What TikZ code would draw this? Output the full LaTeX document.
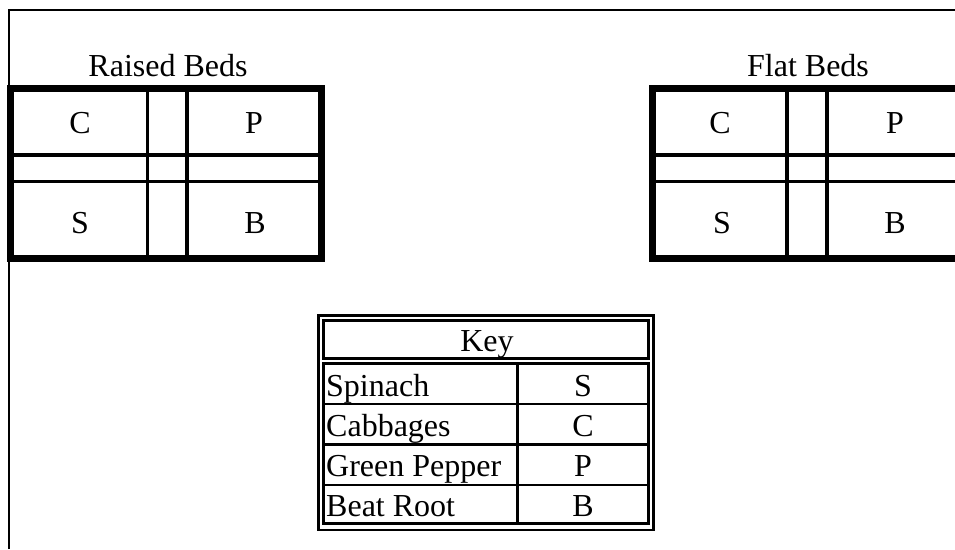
\documentclass[tikz,border=0pt]{standalone}
\usepackage{fontspec}
\setmainfont{Liberation Serif}
\begin{document}
\begin{tikzpicture}[x=1pt, y=-1pt,
  frame/.style={line width=2pt},
  bedouter/.style={line width=7pt},
  bedline/.style={line width=3.5pt},
  keyline/.style={line width=2.6pt},
  title/.style={font=\fontsize{32}{38}\selectfont, anchor=base, inner sep=0pt},
  crop/.style={font=\fontsize{32}{38}\selectfont, anchor=base, inner sep=0pt},
  keytext/.style={font=\fontsize{32}{38}\selectfont, anchor=base, inner sep=0pt}]
\useasboundingbox (0,0) rectangle (955,549);
\begin{scope}
\clip (0,0) rectangle (955,549);
% page frame
\draw[frame] (9,549) -- (9,10) -- (955,10);

% raised beds grid
\draw[bedouter] (10,88.5) rectangle (321.5,258.5);
\draw[bedline] (147.5,88.5) -- (147.5,258.5);
\draw[bedline] (187,88.5) -- (187,258.5);
\draw[bedline] (10,155) -- (321.5,155);
\draw[bedline] (10,181.5) -- (321.5,181.5);

% flat beds grid
\draw[bedouter] (652.5,88.5) rectangle (963,258.5);
\draw[bedline] (787,88.5) -- (787,258.5);
\draw[bedline] (827,88.5) -- (827,258.5);
\draw[bedline] (652.5,155) -- (963,155);
\draw[bedline] (652.5,181.5) -- (963,181.5);
\end{scope}

\node[title] (raised) at (168,76.5) {Raised Beds};
\node[crop] (rc) at (80,133) {C};
\node[crop] (rp) at (254,133) {P};
\node[crop] (rs) at (80,233) {S};
\node[crop] (rb) at (255,233) {B};

\node[title] (flat) at (808,76.5) {Flat Beds};
\node[crop] (fc) at (720,133) {C};
\node[crop] (fp) at (895,133) {P};
\node[crop] (fs) at (722,233) {S};
\node[crop] (fb) at (895,233) {B};

% key table
\draw[keyline] (318.5,315.5) rectangle (653.5,530);
\draw[keyline] (323.5,320.3) rectangle (648.5,358.3);
\draw[keyline] (323.5,363.5) rectangle (648.5,523.3);
\draw[keyline] (323.5,404) -- (648.5,404);
\draw[keyline] (323.5,444.5) -- (648.5,444.5);
\draw[keyline] (323.5,485) -- (648.5,485);
\draw[keyline] (517.3,363.5) -- (517.3,523.3);

\node[keytext] (key) at (487,351.5) {Key};
\node[keytext, anchor=base west] (spinach) at (326,396.5) {Spinach};
\node[keytext] (ks) at (583,396.5) {S};
\node[keytext, anchor=base west] (cabbage) at (326,436.5) {Cabbages};
\node[keytext] (kc) at (583,436.5) {C};
\node[keytext, anchor=base west] (pepper) at (326,476.5) {Green Pepper};
\node[keytext] (kp) at (583,476.5) {P};
\node[keytext, anchor=base west] (beet) at (326,516.5) {Beat Root};
\node[keytext] (kb) at (583,516.5) {B};
\end{tikzpicture}
\end{document}
